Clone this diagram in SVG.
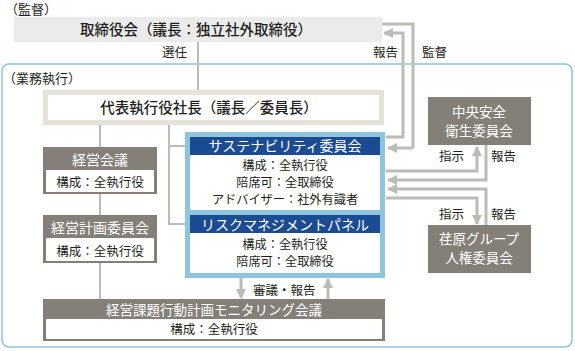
<svg xmlns="http://www.w3.org/2000/svg" width="575" height="351" viewBox="0 0 575 351">
<style>
text{font-family:"Noto Sans CJK JP","Noto Sans",sans-serif;fill:#231f20}
.lbl{font-size:12.5px}
.bd{font-size:12.2px}
.w{fill:#ffffff}
.c{text-anchor:middle}
.gbox{fill:#847f77}
.wbox{fill:#ffffff}
.two{font-size:13.5px}
.ln{fill:none;stroke:#bcbcb6;stroke-width:2}
.ar{fill:none;stroke:#bcbcb6;stroke-width:3}
</style>
<defs>
<marker id="ah" viewBox="0 0 10 10" refX="9" refY="5" markerWidth="10" markerHeight="11" markerUnits="userSpaceOnUse" orient="auto">
<path d="M0,0 L10,5 L0,10 z" fill="#bcbcb6"/>
</marker>
</defs>
<rect x="2" y="64" width="570" height="283" rx="7" fill="#ffffff" stroke="#8ec4dc" stroke-width="1.5"/>
<text x="5" y="14" font-size="13">（監督）</text>
<text x="3" y="83" font-size="13">（業務執行）</text>
<g id="connectors">
<path class="ln" d="M198,42 V92"/>
<path class="ln" d="M100,125 V300"/>
<path class="ln" d="M169,125 V224 H186 M169,146 H186"/>
<path class="ar" d="M413,148 H388" marker-end="url(#ah)"/>
<path class="ar" d="M382,24 H413 V148"/>
<path class="ar" d="M386,137 H403 V33 H384" marker-end="url(#ah)"/>
<path class="ar" d="M386,171 H477 V147" marker-end="url(#ah)"/>
<path class="ar" d="M486,145 V180 H388" marker-end="url(#ah)"/>
<path class="ar" d="M486,225 V189 H388" marker-end="url(#ah)"/>
<path class="ar" d="M386,198 H477 V224" marker-end="url(#ah)"/>
<path class="ar" d="M241,278 V298" marker-end="url(#ah)"/>
<path class="ar" d="M328,299 V279" marker-end="url(#ah)"/>
<text class="lbl" x="187" y="57" text-anchor="end">選任</text>
<text class="lbl" x="373" y="57">報告</text>
<text class="lbl" x="422" y="57">監督</text>
<text class="lbl" x="439" y="161">指示</text>
<text class="lbl" x="491" y="161">報告</text>
<text class="lbl" x="439" y="219">指示</text>
<text class="lbl" x="491" y="219">報告</text>
<text class="lbl" x="253" y="295">審議・報告</text>
</g>
<g id="board">
<rect x="14" y="17" width="368" height="25" fill="#ebebec"/>
<text x="196" y="35" font-size="14.5" font-weight="500" class="c">取締役会（議長：独立社外取締役）</text>
</g>
<g id="ceo">
<rect x="45.5" y="92.5" width="336" height="30" fill="#ffffff" stroke="#e7e2d9" stroke-width="5"/>
<text x="209" y="113" font-size="14.5" font-weight="500" class="c">代表執行役社長（議長／委員長）</text>
</g>
<g id="frame">
<rect x="185" y="132" width="200" height="146" fill="#8ec4dc"/>
</g>
<g id="sustainability">
<rect x="190" y="137" width="190" height="18" fill="#1a4b93"/>
<rect x="190" y="155" width="190" height="55" fill="#ffffff"/>
<text x="285" y="151" font-size="14" class="c w">サステナビリティ委員会</text>
<text x="285" y="170" class="bd c">構成：全執行役</text>
<text x="285" y="187" class="bd c">陪席可：全取締役</text>
<text x="285" y="204" class="bd c">アドバイザー：社外有識者</text>
</g>
<g id="risk">
<rect x="190" y="215" width="190" height="18" fill="#1a4b93"/>
<rect x="190" y="233" width="190" height="40" fill="#ffffff"/>
<text x="285" y="230" font-size="14" class="c w">リスクマネジメントパネル</text>
<text x="285" y="249" class="bd c">構成：全執行役</text>
<text x="285" y="266" class="bd c">陪席可：全取締役</text>
</g>
<g id="keiei">
<rect class="gbox" x="43" y="147" width="114" height="47"/>
<rect class="wbox" x="46" y="170" width="108" height="22"/>
<text x="100" y="165" font-size="14" class="c w">経営会議</text>
<text x="100" y="187" class="lbl c">構成：全執行役</text>
</g>
<g id="keikaku">
<rect class="gbox" x="43" y="215" width="114" height="48"/>
<rect class="wbox" x="46" y="238" width="108" height="23"/>
<text x="100" y="233" font-size="14" class="c w">経営計画委員会</text>
<text x="100" y="256" class="lbl c">構成：全執行役</text>
</g>
<g id="monitoring">
<rect class="gbox" x="43" y="299" width="342" height="42"/>
<rect class="wbox" x="46" y="319" width="336" height="20"/>
<text x="214" y="315" font-size="13.5" class="c w">経営課題行動計画モニタリング会議</text>
<text x="214" y="334" class="lbl c">構成：全執行役</text>
</g>
<g id="safety">
<rect class="gbox" x="428" y="97" width="103" height="48"/>
<text x="479" y="116.5" class="two c w">中央安全</text>
<text x="479" y="135.5" class="two c w">衛生委員会</text>
</g>
<g id="humanrights">
<rect class="gbox" x="428" y="225" width="103" height="48"/>
<text x="479" y="244" class="two c w">荏原グループ</text>
<text x="479" y="263" class="two c w">人権委員会</text>
</g>
</svg>
